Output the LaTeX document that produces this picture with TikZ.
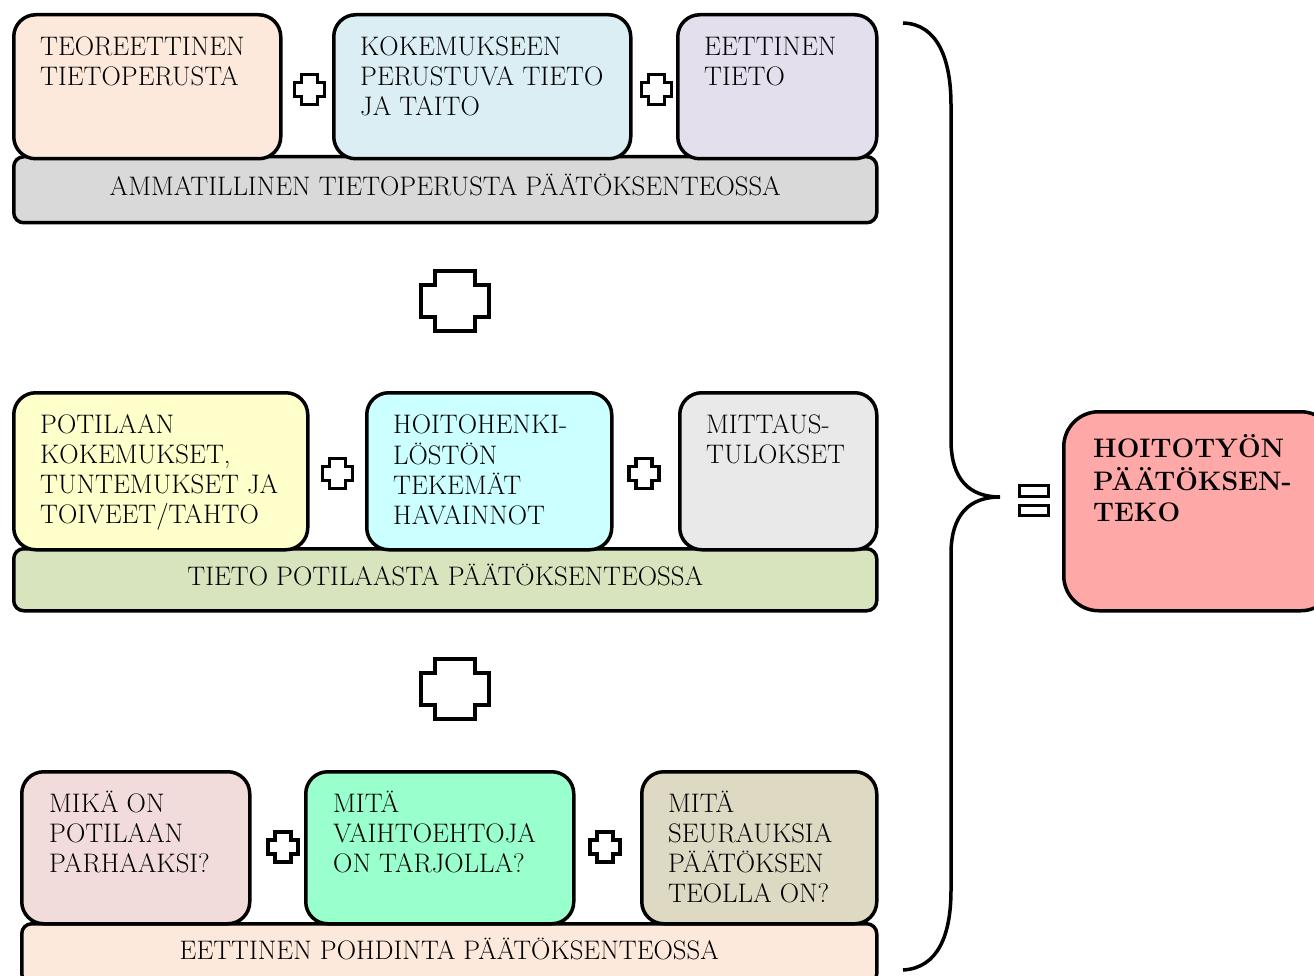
\documentclass[tikz,border=0pt]{standalone}
\usepackage{tikz}
\usetikzlibrary{positioning,calc}
\definecolor{peach}{HTML}{FCE9DB}
\definecolor{paleblue}{HTML}{DAEEF3}
\definecolor{lavender}{HTML}{E4DFEC}
\definecolor{bargray}{HTML}{D9D9D9}
\definecolor{paleyellow}{HTML}{FFFFCC}
\definecolor{palecyan}{HTML}{CCFFFF}
\definecolor{lightgray}{HTML}{E9E9E9}
\definecolor{olive}{HTML}{D7E4BD}
\definecolor{rosy}{HTML}{F2DCDB}
\definecolor{mint}{HTML}{99FFCC}
\definecolor{khaki}{HTML}{DDD9C3}
\definecolor{salmon}{HTML}{FFA8A8}
\tikzset{
	box/.style={draw,line width=3.5pt,rounded corners=22pt,anchor=north west,inner sep=0pt},
	bar/.style={draw,line width=3.5pt,rounded corners=10pt,anchor=north west,inner sep=0pt,text depth=9pt,font=\fontsize{26.8}{30}\selectfont},
	txt/.style={anchor=north west,inner sep=0pt,align=left,font=\fontsize{26.8}{30}\selectfont},
	smallplus/.pic={\draw[line width=3.5pt,fill=white] (-8,-15) -- (8,-15) -- (8,-7) -- (15,-7) -- (15,7) -- (8,7) -- (8,15) -- (-8,15) -- (-8,7) -- (-15,7) -- (-15,-7) -- (-8,-7) -- cycle;},
	bigplus/.pic={\draw[line width=4pt,fill=white] (-20,-30) -- (20,-30) -- (20,-16) -- (34,-16) -- (34,16) -- (20,16) -- (20,30) -- (-20,30) -- (-20,16) -- (-34,16) -- (-34,-16) -- (-20,-16) -- cycle;}
}

\begin{document}
\begin{tikzpicture}[x=1pt,y=-1pt]
	\useasboundingbox (0,0) rectangle (1314,976);
	\clip (0,0) rectangle (1314,976);
	% ammatillinen tietoperusta
	\node[bar,fill=bargray,minimum width=863pt,minimum height=66pt] (amm) at (12,155) {AMMATILLINEN TIETOPERUSTA PÄÄTÖKSENTEOSSA};
	\node[box,fill=peach,minimum width=267pt,minimum height=144pt] (teor) at (12,13) {};
	\node[box,fill=paleblue,minimum width=297pt,minimum height=144pt] (kok) at (332,13) {};
	\node[box,fill=lavender,minimum width=199pt,minimum height=144pt] (eet) at (676,13) {};
	\node[txt] (teortxt) at ([shift={(28,21)}]teor.north west) {\strut TEOREETTINEN\\TIETOPERUSTA};
	\node[txt] (koktxt) at ([shift={(28,21)}]kok.north west) {\strut KOKEMUKSEEN\\PERUSTUVA TIETO\\JA TAITO};
	\node[txt] (eettxt) at ([shift={(28,21)}]eet.north west) {\strut EETTINEN\\TIETO};
	\pic at ($(teor.east)!.5!(kok.west)+(2,3)$) {smallplus};
	\pic at ($(kok.east)!.5!(eet.west)+(2,3)$) {smallplus};
	\pic at (455,301) {bigplus};
	% tieto potilaasta
	\node[bar,fill=olive,minimum width=863pt,minimum height=62pt] (pot) at (12,547) {TIETO POTILAASTA PÄÄTÖKSENTEOSSA};
	\node[box,fill=paleyellow,minimum width=294pt,minimum height=157pt] (kokem) at (12,391) {};
	\node[box,fill=palecyan,minimum width=245pt,minimum height=157pt] (havain) at (365,391) {};
	\node[box,fill=lightgray,minimum width=197pt,minimum height=157pt] (mitt) at (678,391) {};
	\node[txt] (kokemtxt) at ([shift={(28,21)}]kokem.north west) {\strut POTILAAN\\KOKEMUKSET,\\TUNTEMUKSET JA\\TOIVEET/TAHTO};
	\node[txt] (havaintxt) at ([shift={(28,21)}]havain.north west) {\strut HOITOHENKI-\\LÖSTÖN\\TEKEMÄT\\HAVAINNOT};
	\node[txt] (mitttxt) at ([shift={(28,21)}]mitt.north west) {\strut MITTAUS-\\TULOKSET};
	\pic at ($(kokem.east)!.5!(havain.west)+(0,2)$) {smallplus};
	\pic at ($(havain.east)!.5!(mitt.west)+(-2,2)$) {smallplus};
	\pic at (455,689) {bigplus};
	% eettinen pohdinta
	\node[bar,fill=peach,minimum width=855pt,minimum height=60pt] (pohd) at (20,922) {EETTINEN POHDINTA PÄÄTÖKSENTEOSSA};
	\node[box,fill=rosy,minimum width=228pt,minimum height=152pt] (paras) at (20,770) {};
	\node[box,fill=mint,minimum width=268pt,minimum height=152pt] (vaiht) at (304,770) {};
	\node[box,fill=khaki,minimum width=235pt,minimum height=152pt] (seur) at (640,770) {};
	\node[txt] (parastxt) at ([shift={(29,21)}]paras.north west) {\strut MIKÄ ON\\POTILAAN\\PARHAAKSI?};
	\node[txt] (vaihttxt) at ([shift={(29,21)}]vaiht.north west) {\strut MITÄ\\VAIHTOEHTOJA\\ON TARJOLLA?};
	\node[txt] (seurtxt) at ([shift={(28,21)}]seur.north west) {\strut MITÄ\\SEURAUKSIA\\PÄÄTÖKSEN\\TEOLLA ON?};
	\pic at ($(paras.east)!.5!(vaiht.west)+(5,-1)$) {smallplus};
	\pic at ($(vaiht.east)!.5!(seur.west)+(-3,-1)$) {smallplus};
	% aaltosulje ja tulos
	\coordinate (tip) at (1000,497);
	\draw[line width=3.5pt] (903,23) .. controls (938,24) and (951,60) .. (951,105) -- (951,440) .. controls (951,480) and (970,497) .. (tip) .. controls (970,497) and (951,514) .. (951,554) -- (951,890) .. controls (951,935) and (938,968) .. (903,970);
	\draw[line width=3pt,fill=white] (1019,485) rectangle (1048,496) (1019,505) rectangle (1048,515);
	\node[box,fill=salmon,rounded corners=35pt,minimum width=272pt,minimum height=199pt] (res) at (1062,410) {};
	\node[txt,font=\fontsize{26.8}{31}\selectfont\bfseries] (restxt) at ([shift={(31,24)}]res.north west) {\strut HOITOTYÖN\\PÄÄTÖKSEN-\\TEKO};
\end{tikzpicture}
\end{document}
